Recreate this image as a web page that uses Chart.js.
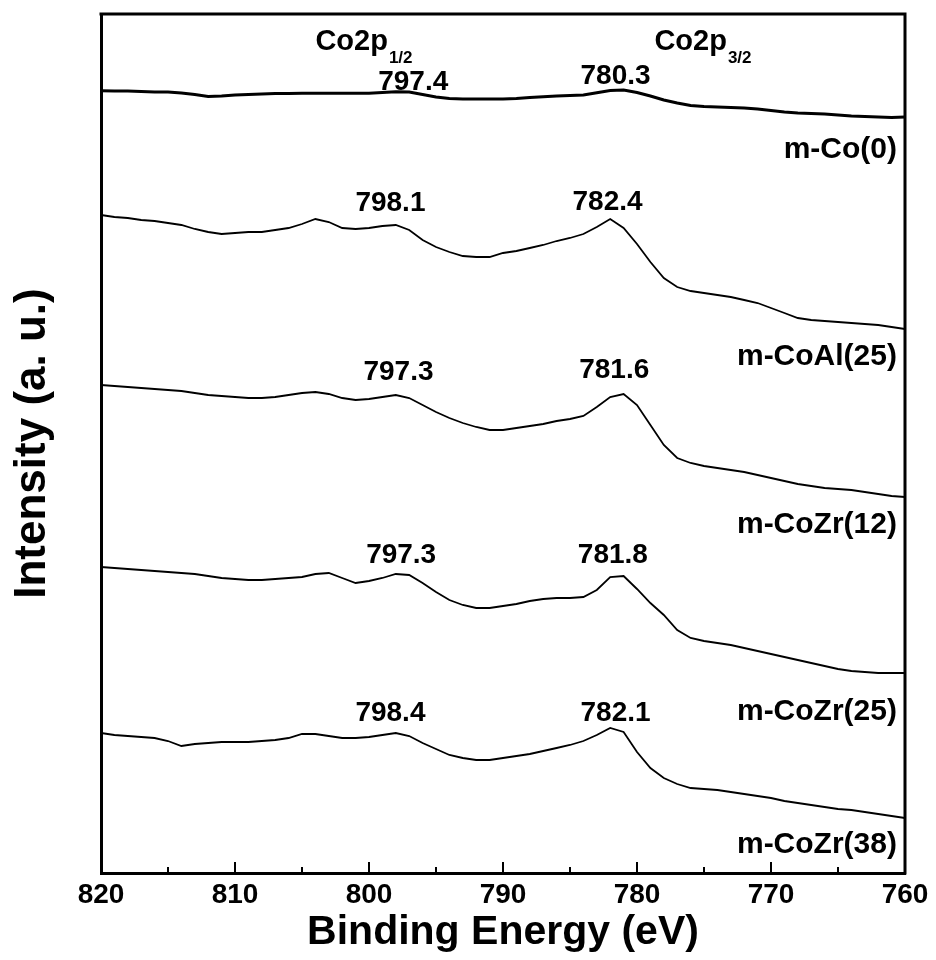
<!DOCTYPE html>
<html>
<head>
<meta charset="utf-8">
<title>Co2p XPS</title>
<script src="https://cdn.jsdelivr.net/npm/chart.js@4/dist/chart.umd.min.js"></script>
<style>
  body { margin: 0; background: #fff; }
  #wrap { width: 936px; height: 960px; position: relative; }
</style>
</head>
<body>
<div id="wrap"><canvas id="xpsChart"></canvas></div>
<script>
"use strict";

// binding energy, 820 -> 760 eV, one reading per eV
var energy = [];
for (var e = 820; e >= 760; e--) energy.push(e);

// intensities (counts, stacked with offsets as in the figure)
var coZero = [7823, 7820, 7820, 7815, 7810, 7810, 7800, 7785, 7765, 7770,
  7780, 7785, 7790, 7795, 7795, 7797, 7797, 7797, 7797, 7797,
  7797, 7805, 7813, 7810, 7785, 7760, 7745, 7740, 7740, 7740,
  7740, 7745, 7755, 7763, 7770, 7775, 7780, 7803, 7825, 7830,
  7805, 7770, 7730, 7700, 7675, 7665, 7660, 7655, 7650, 7640,
  7625, 7610, 7600, 7595, 7590, 7580, 7570, 7565, 7560, 7555, 7560];
var coAl25 = [6580, 6560, 6550, 6530, 6520, 6500, 6480, 6440, 6410, 6390,
  6400, 6410, 6410, 6430, 6450, 6490, 6540, 6510, 6450, 6440,
  6450, 6470, 6480, 6430, 6330, 6260, 6210, 6170, 6160, 6160,
  6200, 6220, 6250, 6280, 6320, 6350, 6390, 6460, 6540, 6450,
  6290, 6110, 5950, 5860, 5820, 5800, 5780, 5760, 5730, 5700,
  5650, 5600, 5550, 5530, 5520, 5510, 5500, 5490, 5480, 5460, 5440];
var coZr12 = [4880, 4870, 4860, 4850, 4840, 4830, 4820, 4800, 4780, 4770,
  4760, 4750, 4750, 4760, 4780, 4800, 4810, 4790, 4750, 4730,
  4740, 4760, 4780, 4750, 4680, 4610, 4550, 4500, 4460, 4430,
  4430, 4450, 4470, 4490, 4520, 4540, 4570, 4660, 4760, 4790,
  4680, 4480, 4280, 4150, 4100, 4070, 4050, 4030, 4010, 3980,
  3950, 3920, 3890, 3870, 3850, 3840, 3830, 3810, 3790, 3770, 3760];
var coZr25 = [3060, 3050, 3040, 3030, 3020, 3010, 3000, 2990, 2970, 2950,
  2940, 2930, 2930, 2940, 2950, 2960, 2990, 3000, 2950, 2900,
  2920, 2950, 2990, 2980, 2900, 2810, 2730, 2680, 2650, 2650,
  2670, 2690, 2720, 2740, 2750, 2750, 2760, 2830, 2960, 2970,
  2840, 2700, 2580, 2430, 2350, 2320, 2300, 2280, 2250, 2220,
  2190, 2160, 2130, 2100, 2070, 2040, 2020, 2010, 2000, 2000, 2000];
var coZr38 = [1400, 1380, 1370, 1360, 1350, 1320, 1270, 1290, 1300, 1310,
  1310, 1310, 1320, 1330, 1350, 1390, 1390, 1370, 1350, 1350,
  1360, 1380, 1400, 1370, 1300, 1240, 1180, 1150, 1130, 1130,
  1150, 1170, 1190, 1220, 1250, 1280, 1320, 1380, 1450, 1410,
  1210, 1050, 950, 890, 850, 840, 830, 810, 790, 770,
  750, 720, 700, 680, 660, 640, 630, 610, 590, 570, 550];

var xTicks = [820, 810, 800, 790, 780, 770, 760];

// sample names, placed at the right end of each curve
var sampleNames = ["m-Co(0)", "m-CoAl(25)", "m-CoZr(12)", "m-CoZr(25)", "m-CoZr(38)"];
var sampleNameY = [7230, 5160, 3480, 1610, 280];

// peak positions written over each curve
var peakText = ["797.4", "780.3", "798.1", "782.4", "797.3", "781.6", "797.3", "781.8", "798.4", "782.1"];
var peakTextX = [796.7, 781.6, 798.4, 782.2, 797.8, 781.7, 797.6, 781.8, 798.4, 781.6];
var peakTextY = [7910, 7970, 6700, 6710, 5010, 5030, 3180, 3180, 1600, 1600];

var FONT = "Arial, 'Liberation Sans', sans-serif";

function toPoints(vals) {
    return energy.map(function (e, i) { return { x: e, y: vals[i] }; });
}

function trace(vals, width) {
    return {
        data: toPoints(vals),
        borderColor: "#000",
        borderWidth: width,
        pointRadius: 0,
        tension: 0,
        fill: false
    };
}

// frame top/right, inward ticks and all the text labels
var decorPlugin = {
    id: "decor",
    afterDraw: function (chart) {
        var ctx = chart.ctx;
        var x = chart.scales.x, y = chart.scales.y;
        var a = chart.chartArea;
        ctx.save();
        ctx.strokeStyle = "#000";
        ctx.lineWidth = 3;
        ctx.beginPath();
        ctx.moveTo(a.left - 1.5, a.top);
        ctx.lineTo(a.right, a.top);
        ctx.lineTo(a.right, a.bottom + 1.5);
        ctx.stroke();

        ctx.lineWidth = 2;
        for (var v = 760; v <= 820; v += 5) {
            var px = Math.round(x.getPixelForValue(v));
            var len = (v % 10 === 0) ? 11 : 6;
            ctx.beginPath();
            ctx.moveTo(px, a.bottom);
            ctx.lineTo(px, a.bottom - len);
            ctx.stroke();
        }

        ctx.fillStyle = "#000";
        ctx.textBaseline = "middle";
        ctx.textAlign = "center";
        ctx.font = "bold 28px " + FONT;
        for (var i = 0; i < peakText.length; i++) {
            ctx.fillText(peakText[i], x.getPixelForValue(peakTextX[i]), y.getPixelForValue(peakTextY[i]));
        }

        ctx.textAlign = "right";
        ctx.font = "bold 30px " + FONT;
        for (var j = 0; j < sampleNames.length; j++) {
            ctx.fillText(sampleNames[j], x.getPixelForValue(760.6), y.getPixelForValue(sampleNameY[j]));
        }

        // Co2p1/2 and Co2p3/2 with subscripts
        ctx.textAlign = "left";
        [[804.0, "1/2"], [778.7, "3/2"]].forEach(function (c) {
            var px = x.getPixelForValue(c[0]);
            var py = y.getPixelForValue(8310);
            ctx.font = "bold 29px " + FONT;
            ctx.fillText("Co2p", px, py);
            var w = ctx.measureText("Co2p").width;
            ctx.font = "bold 17px " + FONT;
            ctx.fillText(c[1], px + w + 1, py + 16);
        });
        ctx.restore();
    }
};

var ctx_xps = document.getElementById("xpsChart").getContext("2d");

var xpsChart = new Chart(ctx_xps, {
    type: "line",
    data: {
        datasets: [
            trace(coZero, 3),
            trace(coAl25, 1.8),
            trace(coZr12, 1.8),
            trace(coZr25, 1.8),
            trace(coZr38, 1.8)
        ]
    },
    options: {
        responsive: true,
        maintainAspectRatio: false,
        animation: false,
        layout: { padding: { top: 14, right: 31, left: 0, bottom: 0 } },
        plugins: { legend: { display: false }, tooltip: { enabled: false } },
        scales: {
            x: {
                type: "linear",
                reverse: true,
                min: 760,
                max: 820,
                afterBuildTicks: function (s) {
                    s.ticks = xTicks.map(function (v) { return { value: v }; });
                },
                afterFit: function (s) { s.height = 87; },
                ticks: {
                    color: "#000",
                    padding: 5,
                    maxRotation: 0,
                    font: { family: FONT, size: 28, weight: "bold" }
                },
                grid: { display: false, drawTicks: false },
                border: { display: true, width: 3, color: "#000" },
                title: {
                    display: true,
                    text: "Binding Energy (eV)",
                    color: "#000",
                    padding: { top: 0, bottom: 3 },
                    font: { family: FONT, size: 41, weight: "bold" }
                }
            },
            y: {
                min: 0,
                max: 8590,
                afterFit: function (s) { s.width = 101; },
                ticks: { display: false },
                grid: { display: false, drawTicks: false },
                border: { display: true, width: 3, color: "#000" },
                title: {
                    display: true,
                    text: "Intensity (a. u.)",
                    color: "#000",
                    padding: { top: 6, bottom: 0 },
                    font: { family: FONT, size: 44, weight: "bold" }
                }
            }
        }
    },
    plugins: [decorPlugin]
});
</script>
</body>
</html>
